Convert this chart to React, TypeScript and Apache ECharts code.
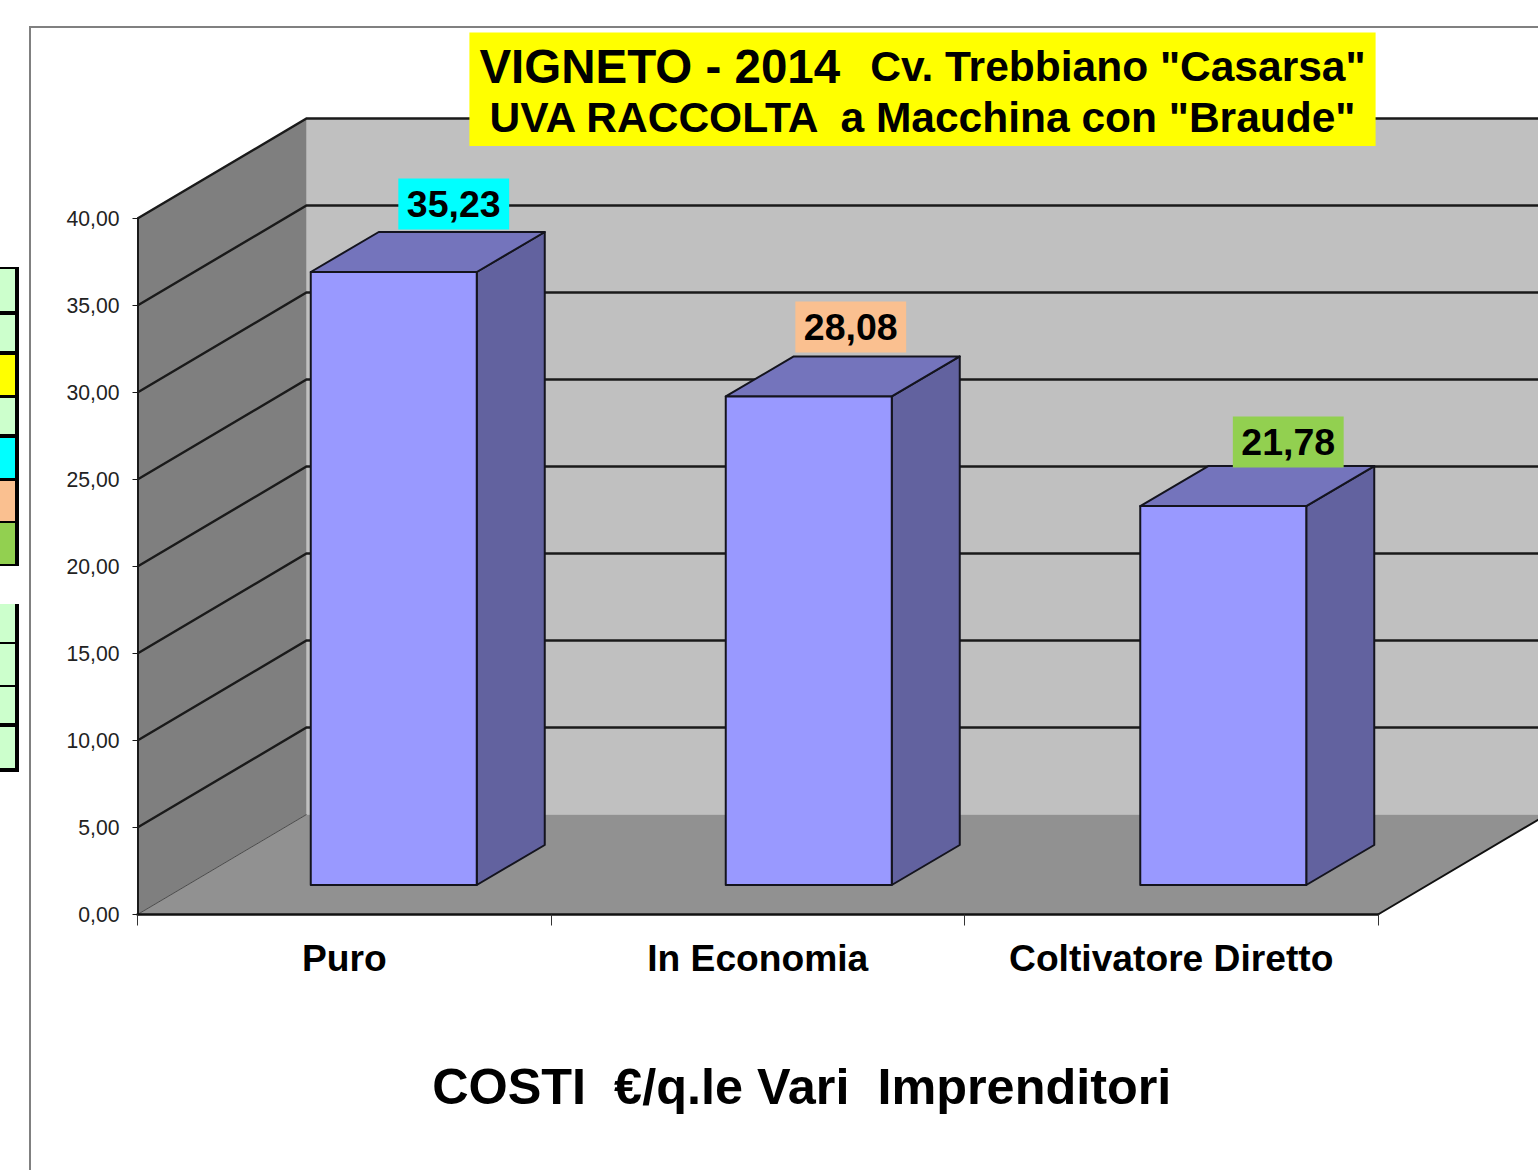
import React, { useEffect, useRef } from "react";
import * as echarts from "echarts";

const categories = ["Puro", "In Economia", "Coltivatore Diretto"];
const costValues = [35.23, 28.08, 21.78];
const labelColors = ["#00ffff", "#fac090", "#92d050"];
const axisTicks = [0, 5, 10, 15, 20, 25, 30, 35, 40];
const sideColorsA = ["#ccffcc", "#ccffcc", "#ffff00", "#ccffcc", "#00ffff", "#fac090", "#92d050"];
const sideColorsB = ["#ccffcc", "#ccffcc", "#ccffcc", "#ccffcc"];
const sideRowsA = [[269, 311], [315, 351], [355, 395], [398, 434], [438, 478], [481, 521], [523, 564]];
const sideRowsB = [[604, 642], [644, 685], [687, 723], [727, 768]];

const FONT = '"Liberation Sans", Arial, sans-serif';
const WALL_DX = 169;
const WALL_DY = -100;
const BAR_DX = 68;
const BAR_DY = -40;
const BAR_SHIFT_X = [49.5, 51, 52];
const BAR_SHIFT_Y = -29.5;
const BAR_W = 166;
const LABEL_DX = [60, 42, 65];
const LABEL_UP = [68, 69.5, 64];
const INK = "#14141e";

const fmt = (v: number) => v.toFixed(2).replace(".", ",");

function renderWalls(params: any, api: any) {
  const cs = params.coordSys;
  const x0 = cs.x;
  const x1 = cs.x + cs.width;
  const yTop = cs.y;
  const yBase = cs.y + cs.height;
  return {
    type: "group",
    children: [
      {
        type: "polygon",
        shape: { points: [[x0 + WALL_DX, yTop + WALL_DY], [x1 + WALL_DX, yTop + WALL_DY], [x1 + WALL_DX, yBase + WALL_DY], [x0 + WALL_DX, yBase + WALL_DY]] },
        style: { fill: "#c0c0c0" },
      },
      {
        type: "polygon",
        shape: { points: [[x0, yTop], [x0 + WALL_DX, yTop + WALL_DY], [x0 + WALL_DX, yBase + WALL_DY], [x0, yBase]] },
        style: { fill: "#7f7f7f" },
      },
      {
        type: "polygon",
        shape: { points: [[x0, yBase], [x1, yBase], [x1 + WALL_DX, yBase + WALL_DY], [x0 + WALL_DX, yBase + WALL_DY]] },
        style: { fill: "#919191" },
      },
      {
        type: "line",
        shape: { x1: x0, y1: yBase, x2: x0 + WALL_DX, y2: yBase + WALL_DY },
        style: { stroke: "#4a4a4a", lineWidth: 1 },
      },
      {
        type: "line",
        shape: { x1: x1, y1: yBase, x2: x1 + WALL_DX, y2: yBase + WALL_DY },
        style: { stroke: "#111111", lineWidth: 2 },
      },
    ],
  };
}

function renderGridLines(params: any, api: any) {
  const cs = params.coordSys;
  const v = api.value(1);
  if (v === 0) return { type: "group", children: [] };
  const y = api.coord([0, v])[1];
  const xb = cs.x + WALL_DX;
  return {
    type: "group",
    children: [
      {
        type: "polyline",
        shape: { points: [[cs.x, y], [xb, y + WALL_DY], [cs.x + cs.width + WALL_DX, y + WALL_DY]] },
        style: { stroke: "#1a1a1a", lineWidth: 2.4, fill: "none" },
      },
    ],
  };
}

function renderBar(params: any, api: any) {
  const i = params.dataIndex;
  const cat = api.value(0);
  const val = api.value(1);
  const top = api.coord([cat, val]);
  const base = api.coord([cat, 0]);
  const cx = top[0] + BAR_SHIFT_X[i];
  const xl = cx - BAR_W / 2;
  const xr = cx + BAR_W / 2;
  const yt = top[1] + BAR_SHIFT_Y;
  const yb = base[1] + BAR_SHIFT_Y;
  const stroke = { stroke: INK, lineWidth: 2, lineJoin: "round" };
  return {
    type: "group",
    children: [
      {
        type: "polygon",
        shape: { points: [[xr, yt], [xr + BAR_DX, yt + BAR_DY], [xr + BAR_DX, yb + BAR_DY], [xr, yb]] },
        style: { fill: "#62629f", ...stroke },
      },
      {
        type: "polygon",
        shape: { points: [[xl, yt], [xl + BAR_DX, yt + BAR_DY], [xr + BAR_DX, yt + BAR_DY], [xr, yt]] },
        style: { fill: "#7474bc", ...stroke },
      },
      {
        type: "rect",
        shape: { x: xl, y: yt, width: BAR_W, height: yb - yt },
        style: { fill: "#9999ff", ...stroke },
      },
      {
        type: "text",
        z2: 10,
        style: {
          text: fmt(val),
          x: cx + LABEL_DX[i],
          y: yt - LABEL_UP[i],
          align: "center",
          verticalAlign: "middle",
          fill: "#000000",
          font: `bold 37.5px ${FONT}`,
          backgroundColor: labelColors[i],
          padding: [8, 8.5, 5, 8.5],
        },
      },
    ],
  };
}

function sideRects() {
  const out: any[] = [
    { type: "rect", shape: { x: 0, y: 267, width: 19, height: 299 }, style: { fill: "#000000" } },
    { type: "rect", shape: { x: 0, y: 604, width: 19, height: 168 }, style: { fill: "#000000" } },
  ];
  sideRowsA.forEach((r, i) =>
    out.push({ type: "rect", shape: { x: 0, y: r[0], width: 15, height: r[1] - r[0] }, style: { fill: sideColorsA[i] } })
  );
  sideRowsB.forEach((r, i) =>
    out.push({ type: "rect", shape: { x: 0, y: r[0], width: 15, height: r[1] - r[0] }, style: { fill: sideColorsB[i] } })
  );
  out.push({ type: "polyline", shape: { points: [[30, 1170], [30, 27], [1538, 27]] }, style: { stroke: "#808080", lineWidth: 2, fill: "none" } });
  return out;
}

export default function App() {
  const ref = useRef<HTMLDivElement>(null);
  useEffect(() => {
    const chart = echarts.init(ref.current!, undefined, { renderer: "svg" });
    chart.setOption({
      animation: false,
      backgroundColor: "#ffffff",
      textStyle: { fontFamily: FONT },
      title: {
        left: 912.5,
        top: 31,
        textAlign: "center",
        padding: [10, 10, 7, 10],
        backgroundColor: "#ffff00",
        text: '{a|VIGNETO - 2014}{c|   }{b|Cv. Trebbiano "Casarsa"}\n{b|UVA RACCOLTA  a Macchina con "Braude"}',
        textStyle: {
          rich: {
            a: { fontFamily: FONT, fontWeight: "bold", fontSize: 47.5, lineHeight: 51, color: "#000" },
            b: { fontFamily: FONT, fontWeight: "bold", fontSize: 42.5, lineHeight: 51, color: "#000" },
            c: { fontFamily: FONT, fontWeight: "bold", fontSize: 36, lineHeight: 51, color: "#000" },
          },
        },
      },
      graphic: { elements: sideRects() },
      grid: { left: 137.5, top: 218.5, width: 1240.5, height: 696, containLabel: false },
      xAxis: {
        type: "category",
        data: categories,
        z: 5,
        axisLine: { lineStyle: { color: "#111111", width: 2.5 } },
        axisTick: { show: true, length: 11, lineStyle: { color: "#333333", width: 1 } },
        axisLabel: { interval: 0, margin: 25, color: "#000000", fontFamily: FONT, fontWeight: "bold", fontSize: 37.2 },
        name: "COSTI  €/q.le Vari  Imprenditori",
        nameLocation: "middle",
        nameGap: 147,
        nameTextStyle: { color: "#000000", fontFamily: FONT, fontWeight: "bold", fontSize: 50.4, padding: [0, 0, 0, 88] },
      },
      yAxis: {
        type: "value",
        min: 0,
        max: 40,
        interval: 5,
        z: 5,
        axisLine: { show: true, lineStyle: { color: "#1a1a1a", width: 2 } },
        axisTick: { show: true, length: 5, lineStyle: { color: "#1a1a1a", width: 1 } },
        splitLine: { show: false },
        axisLabel: { margin: 18, color: "#222222", fontFamily: FONT, fontSize: 21.2, formatter: (v: number) => fmt(v) },
      },
      series: [
        { type: "custom", name: "walls", silent: true, z: 1, renderItem: renderWalls, data: [[0, 0]] },
        { type: "custom", name: "griglia", silent: true, z: 2, renderItem: renderGridLines, data: axisTicks.map((t) => [0, t]) },
        { type: "custom", name: "Costi", z: 3, renderItem: renderBar, encode: { x: 0, y: 1 }, data: costValues.map((v, i) => [i, v]) },
      ],
    });
    return () => chart.dispose();
  }, []);
  return <div ref={ref} style={{ position: "absolute", left: 0, top: 0, width: 1538, height: 1170 }} />;
}
